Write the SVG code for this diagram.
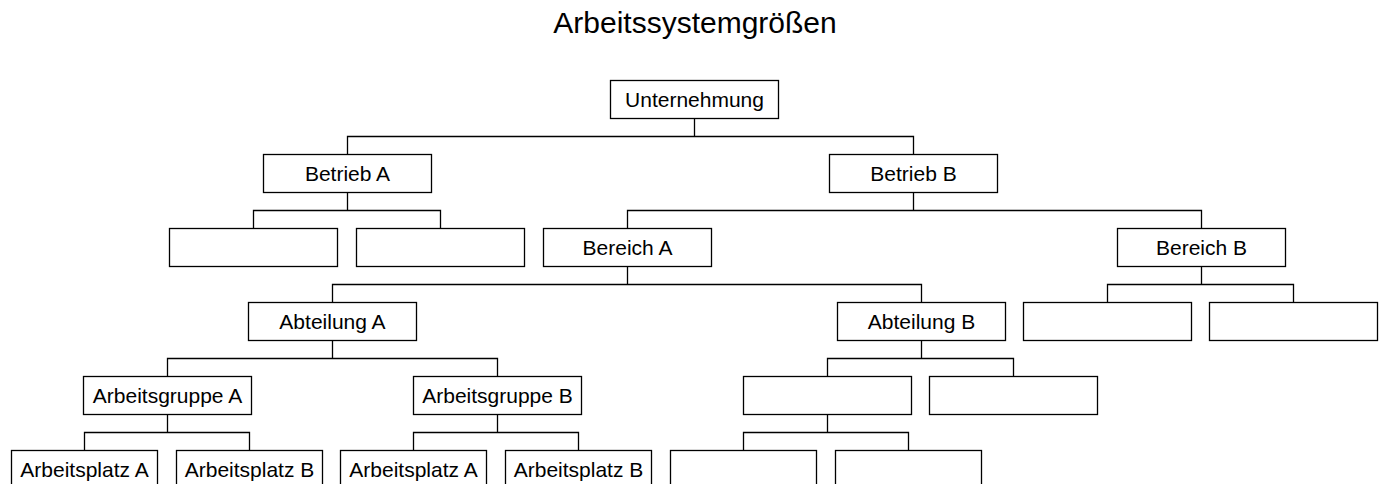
<svg xmlns="http://www.w3.org/2000/svg" width="1380" height="484" viewBox="0 0 1380 484">
<style>
.b{fill:#fff;stroke:#000;stroke-width:1.3}
.t{font-family:"Liberation Sans",Arial,sans-serif;font-size:21px;fill:#000;text-anchor:middle}
.c{fill:none;stroke:#000;stroke-width:1.3}
.title{font-family:"Liberation Sans",Arial,sans-serif;font-size:30px;fill:#000;text-anchor:middle}
</style>
<rect width="1380" height="484" fill="#fff"/>
<text class="title" x="695" y="33">Arbeitssystemgrößen</text>
<g id="connectors">
<path class="c" d="M694.5 118V136.5M347.5 154V136.5H913.5V154"/>
<path class="c" d="M347.5 192V210.5M253.5 228V210.5H440.5V228"/>
<path class="c" d="M913.5 192V210.5M627.5 228V210.5H1201.5V228"/>
<path class="c" d="M627.5 266V284.5M332.5 302V284.5H921.5V302"/>
<path class="c" d="M1201.5 266V284.5M1107.5 302V284.5H1293.5V302"/>
<path class="c" d="M332.5 340V358.5M167.5 376V358.5H497.5V376"/>
<path class="c" d="M921.5 340V358.5M827.5 376V358.5H1013.5V376"/>
<path class="c" d="M167.5 414V432.5M84.5 450V432.5H249.5V450"/>
<path class="c" d="M497.5 414V432.5M413.5 450V432.5H578.5V450"/>
<path class="c" d="M827.5 414V432.5M743.5 450V432.5H908.5V450"/>
</g>
<g id="unternehmung"><rect class="b" x="610.5" y="80.5" width="168" height="38"/><text class="t" x="694.5" y="106.5">Unternehmung</text></g>
<g id="betrieb-a"><rect class="b" x="263.5" y="154.5" width="168" height="38"/><text class="t" x="347.5" y="180.5">Betrieb A</text></g>
<g id="betrieb-b"><rect class="b" x="829.5" y="154.5" width="168" height="38"/><text class="t" x="913.5" y="180.5">Betrieb B</text></g>
<g id="betrieb-a-1"><rect class="b" x="169.5" y="228.5" width="168" height="38"/></g>
<g id="betrieb-a-2"><rect class="b" x="356.5" y="228.5" width="168" height="38"/></g>
<g id="bereich-a"><rect class="b" x="543.5" y="228.5" width="168" height="38"/><text class="t" x="627.5" y="254.5">Bereich A</text></g>
<g id="bereich-b"><rect class="b" x="1117.5" y="228.5" width="168" height="38"/><text class="t" x="1201.5" y="254.5">Bereich B</text></g>
<g id="abteilung-a"><rect class="b" x="248.5" y="302.5" width="168" height="38"/><text class="t" x="332.5" y="328.5">Abteilung A</text></g>
<g id="abteilung-b"><rect class="b" x="837.5" y="302.5" width="168" height="38"/><text class="t" x="921.5" y="328.5">Abteilung B</text></g>
<g id="bereich-b-1"><rect class="b" x="1023.5" y="302.5" width="168" height="38"/></g>
<g id="bereich-b-2"><rect class="b" x="1209.5" y="302.5" width="168" height="38"/></g>
<g id="arbeitsgruppe-a"><rect class="b" x="83.5" y="376.5" width="168" height="38"/><text class="t" x="167.5" y="402.5">Arbeitsgruppe A</text></g>
<g id="arbeitsgruppe-b"><rect class="b" x="413.5" y="376.5" width="168" height="38"/><text class="t" x="497.5" y="402.5">Arbeitsgruppe B</text></g>
<g id="abteilung-b-1"><rect class="b" x="743.5" y="376.5" width="168" height="38"/></g>
<g id="abteilung-b-2"><rect class="b" x="929.5" y="376.5" width="168" height="38"/></g>
<g id="arbeitsplatz-aa"><rect class="b" x="11.5" y="450.5" width="146" height="38"/><text class="t" x="84.5" y="476.5">Arbeitsplatz A</text></g>
<g id="arbeitsplatz-ab"><rect class="b" x="176.5" y="450.5" width="146" height="38"/><text class="t" x="249.5" y="476.5">Arbeitsplatz B</text></g>
<g id="arbeitsplatz-ba"><rect class="b" x="340.5" y="450.5" width="146" height="38"/><text class="t" x="413.5" y="476.5">Arbeitsplatz A</text></g>
<g id="arbeitsplatz-bb"><rect class="b" x="505.5" y="450.5" width="146" height="38"/><text class="t" x="578.5" y="476.5">Arbeitsplatz B</text></g>
<g id="abteilung-b-1-1"><rect class="b" x="670.5" y="450.5" width="146" height="38"/></g>
<g id="abteilung-b-1-2"><rect class="b" x="835.5" y="450.5" width="146" height="38"/></g>
</svg>
